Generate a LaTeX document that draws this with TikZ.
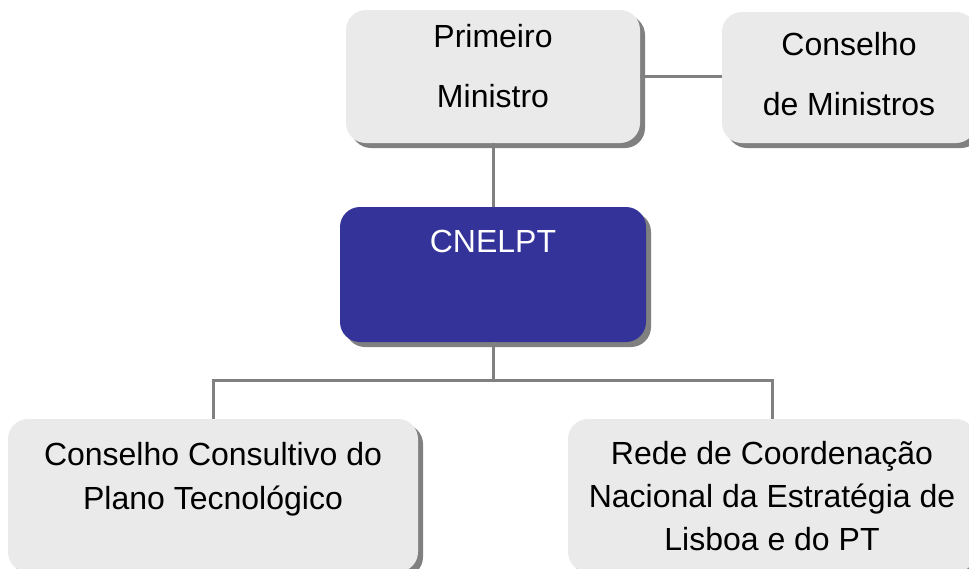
\documentclass[tikz,border=0pt]{standalone}
\usepackage{fontspec}
\setmainfont{Liberation Sans}
\usetikzlibrary{shadows}
\definecolor{boxgray}{HTML}{EAEAEA}
\definecolor{linegray}{HTML}{808080}
\definecolor{cnblue}{HTML}{333399}
\begin{document}
\begin{tikzpicture}[x=1pt,y=-1pt,
  box/.style={rectangle, rounded corners=20pt, fill=boxgray, inner sep=0pt,
    drop shadow={shadow xshift=5pt, shadow yshift=-5pt, fill=linegray, opacity=1}},
  conn/.style={draw=linegray, line width=3pt},
  lbl/.style={anchor=base, inner sep=0pt, font=\fontsize{32}{38}\selectfont}]
\useasboundingbox (0,0) rectangle (969,568);
\clip (0,0) rectangle (969,568);
% boxes
\node[box, minimum width=294pt, minimum height=133pt] (pm) at (493,76.5) {};
\node[box, minimum width=254pt, minimum height=131pt] (cm) at (849,77.5) {};
\node[box, fill=cnblue, minimum width=306pt, minimum height=135pt] (cn) at (493,274.5) {};
\node[box, minimum width=410pt, minimum height=153pt] (cc) at (213,495.5) {};
\node[box, minimum width=408pt, minimum height=153pt] (rd) at (772,495.5) {};
% connectors
\draw[conn] (pm.south) -- (cn.north);
\draw[conn] (pm.east) -- (pm.east -| cm.west);
\draw[conn] (cn.south) -- ++(0,38) coordinate (j);
\draw[conn] (j) -| (cc.north);
\draw[conn] (j) -| (rd.north);
% labels
\node[lbl] (pm1) at (493,47) {Primeiro};
\node[lbl] (pm2) at (493,107) {Ministro};
\node[lbl] (cm1) at (849,55) {Conselho};
\node[lbl] (cm2) at (849,115) {de Ministros};
\node[lbl, text=white] (cn1) at (493,252) {CNELPT};
\node[lbl] (cc1) at (213,465) {Conselho Consultivo do};
\node[lbl] (cc2) at (213,509) {Plano Tecnológico};
\node[lbl] (rd1) at (772,464) {Rede de Coordenação};
\node[lbl] (rd2) at (772,507) {Nacional da Estratégia de};
\node[lbl] (rd3) at (772,550) {Lisboa e do PT};
\end{tikzpicture}
\end{document}
